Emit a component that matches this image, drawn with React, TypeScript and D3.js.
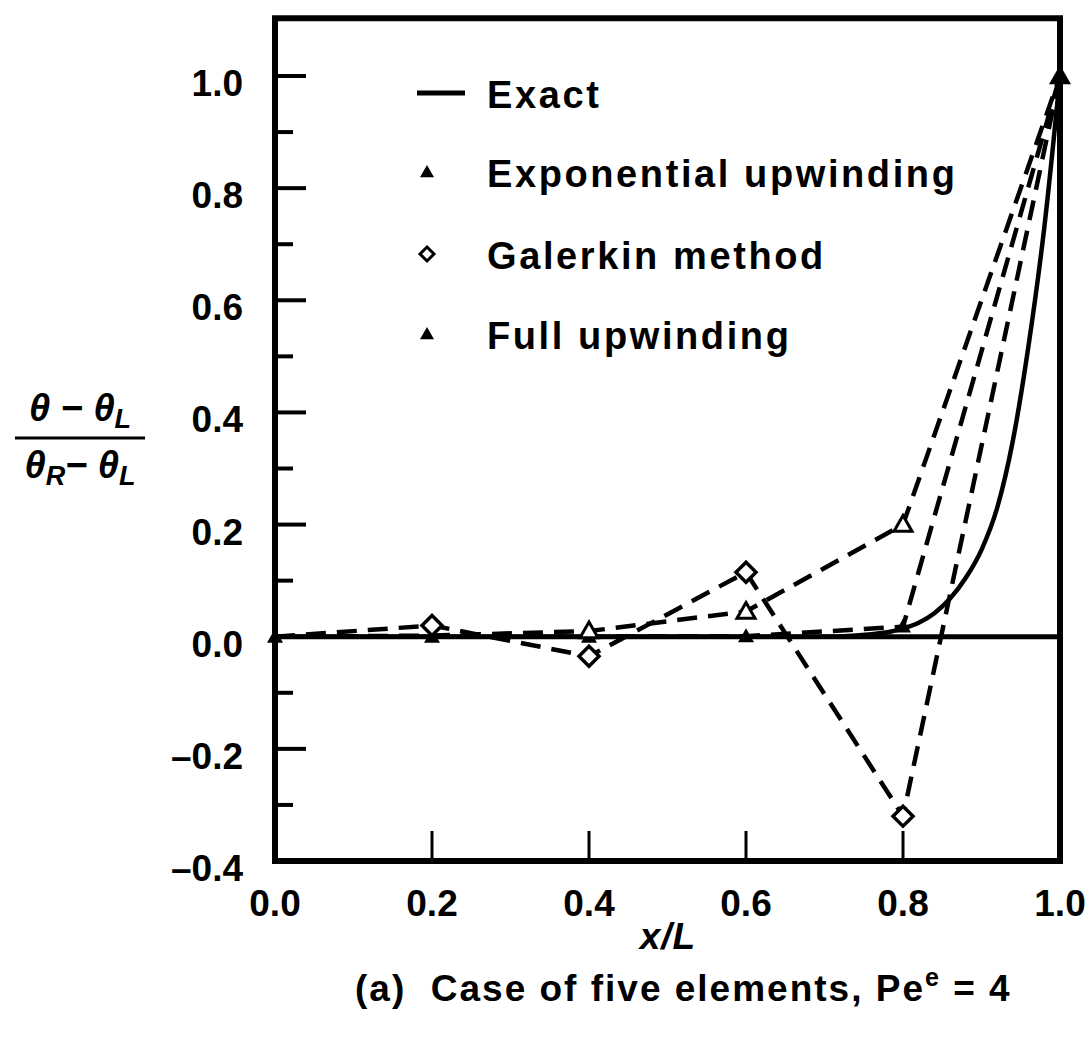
import React from "react";
import * as d3 from "d3";

// nodal positions (five elements)
const nodes = [0, 0.2, 0.4, 0.6, 0.8, 1.0];
const galerkin = [0, 0.02, -0.035, 0.115, -0.32, 1.0];
const fullUpwind = [0, 0.002, 0.01, 0.045, 0.2, 1.0];
const expUpwind = [0, 0, 0, 0.001, 0.018, 1.0];

// exact solution
const exactX = [0, 0.7, 0.78, 0.8, 0.82, 0.84, 0.86, 0.88, 0.9, 0.92, 0.94, 0.96, 0.98, 1.0];
const exactY = [0, 0, 0.008, 0.015, 0.025, 0.042, 0.068, 0.105, 0.155, 0.23, 0.35, 0.52, 0.73, 1.0];

const xTicks = [0, 0.2, 0.4, 0.6, 0.8, 1.0];
const yTicks = [-0.4, -0.2, 0, 0.2, 0.4, 0.6, 0.8, 1.0];
const yMinor = [-0.3, -0.1, 0.1, 0.3, 0.5, 0.7, 0.9];

const legendItems = ["Exact", "Exponential upwinding", "Galerkin method", "Full upwinding"];

const W = 1090;
const H = 1041;
const FONT = "'Liberation Sans', Arial, Helvetica, sans-serif";

export default function App() {
  const x = d3.scaleLinear().domain([0, 1]).range([275, 1060]);
  const y = d3.scaleLinear().domain([-0.4, 1.0]).range([861, 76]);
  const yTop = y(1.103);

  const line = d3.line<[number, number]>().x(d => x(d[0])).y(d => y(d[1]));
  const curve = d3.line<[number, number]>().x(d => x(d[0])).y(d => y(d[1])).curve(d3.curveMonotoneX);

  const pts = (vals: number[]) => nodes.map((n, i) => [n, vals[i]] as [number, number]);
  const exactPts = exactX.map((v, i) => [v, exactY[i]] as [number, number]);

  const tri = (cx: number, cy: number, s: number) =>
    `M${cx},${cy - s}L${cx + s},${cy + s * 0.75}L${cx - s},${cy + s * 0.75}Z`;
  const dia = (cx: number, cy: number, s: number) =>
    `M${cx},${cy - s}L${cx + s},${cy}L${cx},${cy + s}L${cx - s},${cy}Z`;

  const dash = "20 11";
  const legendY = [93, 172, 254, 334];

  return (
    <div style={{ position: "absolute", left: 0, top: 0 }}>
      <svg width={W} height={H} style={{ display: "block", background: "#fff" }} fontFamily={FONT}>
        {/* dashed numerical solutions */}
        <path d={line(pts(expUpwind)) || ""} fill="none" stroke="#000" strokeWidth={4.5} strokeDasharray={dash} />
        <path d={line(pts(fullUpwind)) || ""} fill="none" stroke="#000" strokeWidth={4.5} strokeDasharray={dash} />
        <path d={line(pts(galerkin)) || ""} fill="none" stroke="#000" strokeWidth={4.5} strokeDasharray={dash} />

        {/* zero line */}
        <line x1={x(0)} x2={x(1)} y1={y(0)} y2={y(0)} stroke="#000" strokeWidth={5} />

        {/* exact */}
        <path d={curve(exactPts) || ""} fill="none" stroke="#000" strokeWidth={4.5} />

        {/* markers */}
        {nodes.map((n, i) => (
          <path key={"e" + i} d={tri(x(n), y(expUpwind[i]), i === 5 ? 11 : 8)} fill="#000" />
        ))}
        {nodes.slice(2, 5).map((n, i) => (
          <path key={"f" + i} d={tri(x(n), y(fullUpwind[i + 2]), 9)} fill="#fff" stroke="#000" strokeWidth={3} />
        ))}
        {nodes.slice(1, 5).map((n, i) => (
          <path key={"g" + i} d={dia(x(n), y(galerkin[i + 1]), 10)} fill="#fff" stroke="#000" strokeWidth={3.5} />
        ))}

        {/* frame */}
        <rect x={x(0)} y={yTop} width={x(1) - x(0)} height={y(-0.4) - yTop} fill="none" stroke="#000" strokeWidth={6} />

        {/* y ticks */}
        {yTicks.map(t => (
          <g key={"yt" + t}>
            <line x1={x(0)} x2={x(0) + 31} y1={y(t)} y2={y(t)} stroke="#000" strokeWidth={4} />
            <text x={243} y={y(t) + 20} textAnchor="end" fontSize={37} fontWeight="bold">
              {(t < 0 ? "\u2013" : "") + Math.abs(t).toFixed(1)}
            </text>
          </g>
        ))}
        {yMinor.map(t => (
          <line key={"ym" + t} x1={x(0)} x2={x(0) + 18} y1={y(t)} y2={y(t)} stroke="#000" strokeWidth={4} />
        ))}

        {/* x ticks */}
        {xTicks.map(t => (
          <g key={"xt" + t}>
            {t > 0 && t < 1 && (
              <line x1={x(t)} x2={x(t)} y1={y(-0.4)} y2={y(-0.4) - 30} stroke="#000" strokeWidth={3} />
            )}
            <text x={x(t)} y={916} textAnchor="middle" fontSize={37} fontWeight="bold">
              {t.toFixed(1)}
            </text>
          </g>
        ))}

        {/* axis titles */}
        <text x={668} y={949} textAnchor="middle" fontSize={37} fontWeight="bold" fontStyle="italic" letterSpacing={1}>x/L</text>
        <text x={355} y={1001} fontSize={37} fontWeight="bold" letterSpacing={2.0}>
          {"(a)\u00a0\u00a0Case of five elements, Pe"}
          <tspan dy={-15} fontSize={25}>e</tspan>
          <tspan dy={15}>{"\u00a0= 4"}</tspan>
        </text>

        <g fontSize={38} fontWeight="bold" fontStyle="italic" textAnchor="middle">
          <text x={80} y={421}>
            {"\u03b8 \u2212 \u03b8"}
            <tspan fontSize={27} dy={7}>L</tspan>
          </text>
          <line x1={15} x2={145} y1={438} y2={438} stroke="#000" strokeWidth={3} />
          <text x={80} y={478}>
            {"\u03b8"}
            <tspan fontSize={27} dy={7}>R</tspan>
            <tspan dy={-7}>{"\u2212 \u03b8"}</tspan>
            <tspan fontSize={27} dy={7}>L</tspan>
          </text>
        </g>

        {/* legend */}
        {legendItems.map((name, i) => {
          const ly = legendY[i];
          return (
            <g key={name}>
              {i === 0 && <line x1={417} x2={465} y1={ly} y2={ly} stroke="#000" strokeWidth={5} />}
              {(i === 1 || i === 3) && <path d={tri(427, ly, 7)} fill="#000" />}
              {i === 2 && <path d={dia(427, ly, 7)} fill="#fff" stroke="#000" strokeWidth={3} />}
              <text x={487} y={ly + 15} fontSize={38} fontWeight="bold" letterSpacing={2.6}>
                {name}
              </text>
            </g>
          );
        })}
      </svg>
    </div>
  );
}
